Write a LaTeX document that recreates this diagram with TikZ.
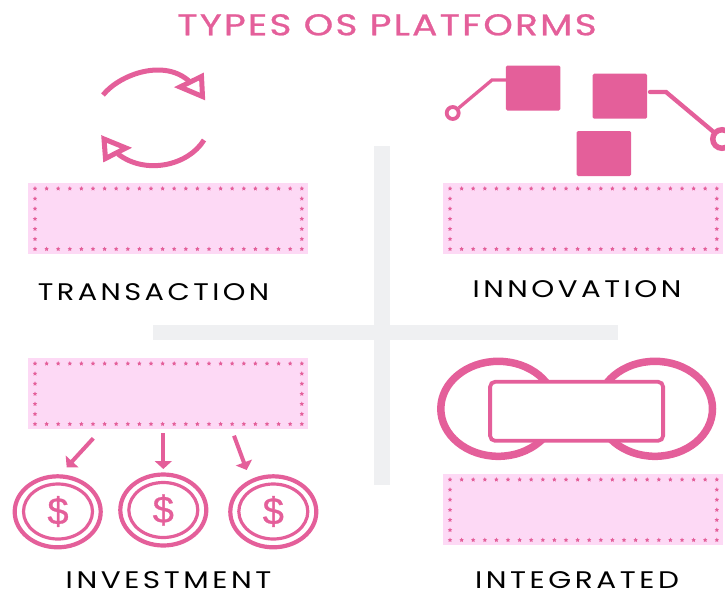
\documentclass[tikz,border=0pt]{standalone}
\usepackage{fontspec}
\setmainfont{Poppins}
\newfontfamily\titlefont[LetterSpace=6,FakeBold=0.8]{Poppins}
\newfontfamily\labelfont[LetterSpace=12]{Poppins}
\newfontfamily\dollarfont[FakeBold=0.8]{Liberation Sans}
\usetikzlibrary{arrows.meta,shapes.geometric}
\definecolor{rose}{HTML}{E45F9A}
\definecolor{blush}{HTML}{FDD9F5}
\definecolor{barcol}{HTML}{EFF0F2}
\newcommand{\pinkstar}[2]{\fill[rose] (#1,#2) +(0,-2.3) -- +(.7,-.8) -- +(2.2,-.7) -- +(1.1,.4) -- +(1.4,2) -- +(0,1.2) -- +(-1.4,2) -- +(-1.1,.4) -- +(-2.2,-.7) -- +(-.7,-.8) -- cycle;}
\newcommand{\pinkpanel}[3]{%
  \node[panel] (#1) at (#2+140,#3+35) {};
  \foreach \i in {0,...,23} {\pinkstar{#2+7+\i*11.6}{#3+5.5}\pinkstar{#2+7+\i*11.6}{#3+66}}
  \foreach \j in {1,...,5} {\pinkstar{#2+7}{#3+5.5+\j*10.1}\pinkstar{#2+273.8}{#3+5.5+\j*10.1}}
}
\newcommand{\widetitle}[1]{\scalebox{1.25}[1]{#1}}
\newcommand{\widelabel}[2]{\scalebox{#1}[1]{#2}}
\tikzset{
  panel/.style={fill=blush,minimum width=280,minimum height=71,inner sep=0},
  crossbar/.style={fill=barcol,inner sep=0},
  square/.style={fill=rose,rounded corners=1.5,minimum width=54.5,minimum height=45,inner sep=0},
  title/.style={text=rose,anchor=base,font=\titlefont\fontsize{30}{30}\selectfont,inner sep=0},
  label/.style={text=black,anchor=base,font=\labelfont\fontsize{24}{24}\selectfont,inner sep=0},
  ic/.style={draw=rose,line width=5,fill=none},
  coinout/.style={ellipse,draw=rose,line width=4.2,minimum width=86,minimum height=71,inner sep=0},
  coinin/.style={ellipse,draw=rose,line width=3.2,minimum width=69,minimum height=55,inner sep=0,text=rose,font=\dollarfont\fontsize{38}{38}\selectfont},
  darrow/.style={draw=rose,line width=4,-{Triangle[length=8,width=17]}},
  bigring/.style={ellipse,draw=rose,line width=7.5,minimum width=115,minimum height=95,inner sep=0},
}
\begin{document}
\begin{tikzpicture}[x=1pt,y=-1pt]
\useasboundingbox (0,0) rectangle (725,592);
\node[title] (ttl) at (387,35.3) {\widetitle{TYPES OS PLATFORMS}};

% cross
\node[crossbar,minimum width=16,minimum height=339] (vbar) at (382,315.5) {};
\node[crossbar,minimum width=465,minimum height=15] (hbar) at (385.5,332.5) {};

% transaction icon
\draw[ic,line cap=butt] (103,95) .. controls (120,74) and (165,58) .. (190,82);
\draw[ic,line join=miter] (201.5,76.5) -- (202.5,96.5) -- (180,87) -- cycle;
\draw[ic,line cap=butt] (204,140) .. controls (188,166) and (145,175) .. (118,154);
\draw[ic,line join=miter] (104,139) -- (105.5,158.5) -- (126,148) -- cycle;

% innovation icon
\node[square] (sqA) at (533.2,88) {};
\node[square] (sqB) at (619.8,96.2) {};
\node[square] (sqC) at (603.8,153.5) {};
\node[circle,draw=rose,line width=3.8,minimum size=12,inner sep=0] (ringA) at (452.7,113) {};
\node[circle,draw=rose,line width=5.5,minimum size=18.5,inner sep=0] (ringB) at (722,139) {};
\coordinate (bendA) at (492,80);
\coordinate (bendB) at (666,92);
\draw[rose,line width=3.3] (ringA) -- (bendA) -- (sqA.west |- bendA);
\draw[rose,line width=4.3,line cap=round] (ringB) -- (bendB) -- (650,92);

% panels
\pinkpanel{pA}{28}{183}
\pinkpanel{pB}{443}{183}
\pinkpanel{pC}{28}{358}
\pinkpanel{pD}{443}{474}

% labels
\node[label] (lA) at (153.5,300) {\widelabel{1.2}{TRANSACTION}};
\node[label] (lB) at (577,297) {\widelabel{1.217}{INNOVATION}};
\node[label] (lC) at (168.5,588.3) {\widelabel{1.23}{INVESTMENT}};
\node[label] (lD) at (577,588.3) {\widelabel{1.23}{INTEGRATED}};

% investment icons
\node[coinout] (cAo) at (57.7,511.8) {};
\node[coinin] (cA) at (58,511.5) {\$};
\node[coinout] (cBo) at (163.3,510) {};
\node[coinin] (cB) at (163.3,510) {\$};
\node[coinout] (cCo) at (273.3,511.8) {};
\node[coinin] (cC) at (273.3,511.5) {\$};
\coordinate (sA) at (93.3,438.3);
\coordinate (eA) at (66.7,467.3);
\coordinate (sB) at (163.3,433.3);
\coordinate (eB) at (163.3,469);
\coordinate (sC) at (234,435.7);
\coordinate (eC) at (246.7,470);
\draw[darrow] (sA) -- (eA);
\draw[darrow] (sB) -- (eB);
\draw[darrow] (sC) -- (eC);

% integrated icon
\node[bigring] (rL) at (498.3,408.8) {};
\node[bigring] (rR) at (655,408.8) {};
\node[draw=rose,line width=3.8,fill=white,rounded corners=5,minimum width=173,minimum height=59,inner sep=0] (rect) at (576.6,411.3) {};
\end{tikzpicture}
\end{document}
